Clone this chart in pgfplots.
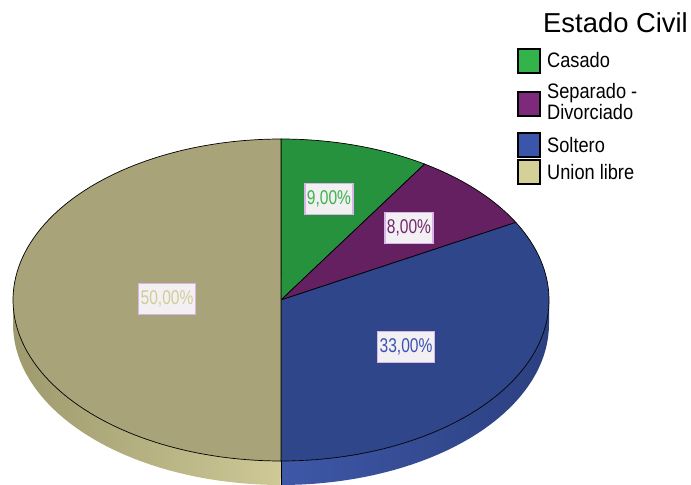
\documentclass[border=0pt]{standalone}
\usepackage{pgfplots}
\pgfplotsset{compat=1.18}
\usepackage{pgfplotstable}
\usepackage{fontspec}
\setmainfont{Liberation Sans}
\newfontfamily\legfont[FakeStretch=0.87]{Liberation Sans}
\newfontfamily\labfont[FakeStretch=0.78]{Liberation Sans}

\definecolor{topgreen}{RGB}{38,146,62}
\definecolor{toppurple}{RGB}{100,32,96}
\definecolor{topblue}{RGB}{48,70,138}
\definecolor{topkhaki}{RGB}{168,163,120}
\definecolor{leggreen}{RGB}{51,180,74}
\definecolor{legpurple}{RGB}{125,42,125}
\definecolor{legblue}{RGB}{58,85,170}
\definecolor{legkhaki}{RGB}{212,208,152}
\definecolor{labgreen}{RGB}{60,180,75}
\definecolor{labpurple}{RGB}{112,40,112}
\definecolor{labblue}{RGB}{60,80,180}
\definecolor{labkhaki}{RGB}{210,205,150}
\definecolor{sideblueL}{RGB}{62,88,168}
\definecolor{sideblueR}{RGB}{44,64,128}
\definecolor{sidekhakiL}{RGB}{158,154,110}
\definecolor{sidekhakiR}{RGB}{206,201,150}
\definecolor{boxfill}{RGB}{242,240,242}
\definecolor{boxdraw}{RGB}{216,180,232}

\pgfplotstableread{
label value
Casado 9
Separado 8
Soltero 33
Union 50
}\datatable

\def\cx{281}\def\cy{185}\def\rx{268}\def\ry{161}\def\dep{24}

\begin{document}
\begin{tikzpicture}
\pgfplotstablegetelem{0}{value}\of\datatable \pgfmathsetmacro\vA{\pgfplotsretval}
\pgfplotstablegetelem{1}{value}\of\datatable \pgfmathsetmacro\vB{\pgfplotsretval}
\pgfplotstablegetelem{2}{value}\of\datatable \pgfmathsetmacro\vC{\pgfplotsretval}
\pgfplotstablegetelem{3}{value}\of\datatable \pgfmathsetmacro\vD{\pgfplotsretval}
\pgfmathsetmacro\aA{0}
\pgfmathsetmacro\aB{3.6*\vA}
\pgfmathsetmacro\aC{\aB+3.6*\vB}
\pgfmathsetmacro\aD{\aC+3.6*\vC}
\pgfmathsetmacro\aE{\aD+3.6*\vD}
\pgfmathsetmacro\loC{max(\aC,90)}\pgfmathsetmacro\hiC{min(\aD,270)}
\pgfmathsetmacro\loD{max(\aD,90)}\pgfmathsetmacro\hiD{min(\aE,270)}
\pgfmathsetmacro\exA{\cx+\rx*sin(\aD)}
\pgfmathsetmacro\eyA{\cy+\ry*cos(\aD)}
\pgfmathsetmacro\eyB{\eyA-\dep}
\begin{axis}[width=691bp,height=485bp,scale only axis,
  xmin=0,xmax=691,ymin=0,ymax=485,axis lines=none,clip=true]
% side walls
\addplot[draw=none, left color=sideblueL, right color=sideblueR,
  variable=\t, samples at={0,0.025,...,1,1.00001,1.025,...,2}]
  ({\cx+\rx*sin( (\t<=1) ? (\loC+(\hiC-\loC)*\t) : (\hiC-(\hiC-\loC)*(\t-1)) )},
   {\cy+\ry*cos( (\t<=1) ? (\loC+(\hiC-\loC)*\t) : (\hiC-(\hiC-\loC)*(\t-1)) ) - ((\t<=1) ? 0 : \dep)}) -- cycle;
\addplot[draw=none, left color=sidekhakiL, right color=sidekhakiR,
  variable=\t, samples at={0,0.025,...,1,1.00001,1.025,...,2}]
  ({\cx+\rx*sin( (\t<=1) ? (\loD+(\hiD-\loD)*\t) : (\hiD-(\hiD-\loD)*(\t-1)) )},
   {\cy+\ry*cos( (\t<=1) ? (\loD+(\hiD-\loD)*\t) : (\hiD-(\hiD-\loD)*(\t-1)) ) - ((\t<=1) ? 0 : \dep)}) -- cycle;
% top face
\addplot[fill=topgreen, draw=black, line width=0.7bp, domain=\aA:\aB, samples=40, variable=\t]
  ({\cx+\rx*sin(\t)},{\cy+\ry*cos(\t)}) -- (axis cs:\cx,\cy) -- cycle;
\addplot[fill=toppurple, draw=black, line width=0.7bp, domain=\aB:\aC, samples=40, variable=\t]
  ({\cx+\rx*sin(\t)},{\cy+\ry*cos(\t)}) -- (axis cs:\cx,\cy) -- cycle;
\addplot[fill=topblue, draw=black, line width=0.7bp, domain=\aC:\aD, samples=80, variable=\t]
  ({\cx+\rx*sin(\t)},{\cy+\ry*cos(\t)}) -- (axis cs:\cx,\cy) -- cycle;
\addplot[fill=topkhaki, draw=black, line width=0.7bp, domain=\aD:\aE, samples=100, variable=\t]
  ({\cx+\rx*sin(\t)},{\cy+\ry*cos(\t)}) -- (axis cs:\cx,\cy) -- cycle;
\draw[black, line width=1bp] (axis cs:\exA,\eyA) -- (axis cs:\exA,\eyB);
% labels
\tikzset{labbox/.style={fill=boxfill, draw=boxdraw, line width=1.2bp, inner xsep=2bp,
  inner ysep=0bp, minimum height=31bp, font=\labfont\fontsize{20}{24}\selectfont}}
\node[labbox, text=labgreen] at (axis cs:329,286) {9,00\%};
\node[labbox, text=labpurple] at (axis cs:409,257) {8,00\%};
\node[labbox, text=labblue] at (axis cs:406,138) {33,00\%};
\node[labbox, text=labkhaki] at (axis cs:167,186) {50,00\%};
% legend
\node[anchor=base west, inner sep=0pt, font=\fontsize{27.5}{33}\selectfont] at (axis cs:543,452) {Estado Civil};
\draw[fill=leggreen, line width=1.5bp] (axis cs:518,412) rectangle (axis cs:540,436);
\draw[fill=legpurple, line width=1.5bp] (axis cs:518,369) rectangle (axis cs:540,393);
\draw[fill=legblue, line width=1.5bp] (axis cs:518,328) rectangle (axis cs:540,352);
\draw[fill=legkhaki, line width=1.5bp] (axis cs:518,301) rectangle (axis cs:540,325);
\tikzset{legtxt/.style={anchor=base west, inner sep=0pt, font=\legfont\fontsize{21}{25}\selectfont}}
\node[legtxt] at (axis cs:547,417) {Casado};
\node[legtxt] at (axis cs:547,386) {Separado -};
\node[legtxt] at (axis cs:547,365) {Divorciado};
\node[legtxt] at (axis cs:547,332) {Soltero};
\node[legtxt] at (axis cs:547,305) {Union libre};
\end{axis}
\pgfresetboundingbox
\path[use as bounding box] (0,0) rectangle (691bp,485bp);
\end{tikzpicture}
\end{document}
